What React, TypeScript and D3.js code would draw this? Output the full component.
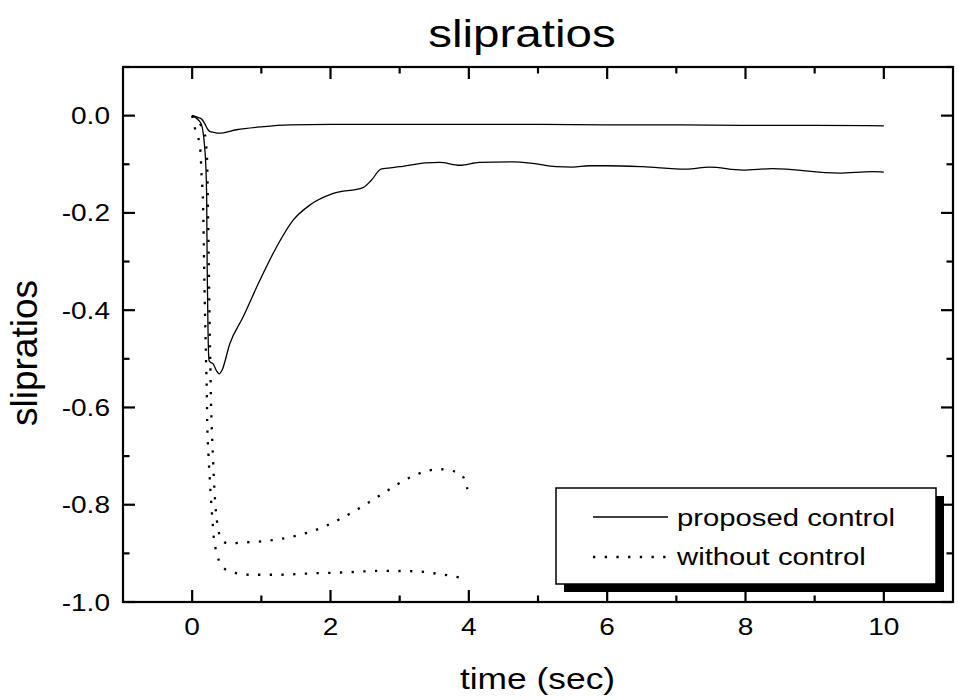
import React from "react";
import * as d3 from "d3";

// ---- data ----
const propATime = [0, 0.09, 0.136, 0.18, 0.23, 0.26, 0.3, 0.39, 0.64, 1.0, 1.41, 2, 3, 4, 5, 6, 7, 8, 9, 10];
const propAValue = [0, -0.004, -0.007, -0.016, -0.029, -0.033, -0.034, -0.036, -0.029, -0.023, -0.019, -0.018, -0.018, -0.018, -0.018, -0.019, -0.019, -0.02, -0.02, -0.021];

const propBTime = [0, 0.09, 0.136, 0.16, 0.18, 0.198, 0.21, 0.217, 0.23, 0.245, 0.265, 0.3, 0.35, 0.39, 0.43, 0.544, 0.736, 0.977, 1.22, 1.46, 1.7, 2.04, 2.47, 2.59, 2.73, 2.83, 3.0, 3.38, 3.58, 3.87, 4.15, 4.64, 4.92, 5.26, 5.5, 5.74, 6.0, 6.51, 7.14, 7.48, 7.96, 8.39, 9.35, 9.83, 10.0];
const propBValue = [0, -0.009, -0.019, -0.036, -0.064, -0.105, -0.174, -0.311, -0.449, -0.504, -0.507, -0.51, -0.524, -0.531, -0.524, -0.469, -0.414, -0.339, -0.27, -0.215, -0.184, -0.16, -0.148, -0.133, -0.11, -0.108, -0.105, -0.097, -0.096, -0.102, -0.096, -0.095, -0.098, -0.105, -0.106, -0.103, -0.103, -0.105, -0.11, -0.106, -0.112, -0.109, -0.118, -0.115, -0.116];

const noA_Time = [0, 0.04, 0.1, 0.12, 0.136, 0.16, 0.173, 0.19, 0.205, 0.212, 0.217, 0.237, 0.265, 0.3, 0.313, 0.342, 0.39, 0.51, 0.83, 1.25, 1.75, 2.23, 2.73, 3.24, 3.55, 3.88, 3.98];
const noA_Value = [0, -0.026, -0.054, -0.074, -0.122, -0.194, -0.311, -0.435, -0.528, -0.572, -0.627, -0.7, -0.772, -0.845, -0.869, -0.892, -0.916, -0.935, -0.944, -0.944, -0.941, -0.939, -0.936, -0.937, -0.942, -0.95, -0.953];

const noB_Time = [0, 0.136, 0.198, 0.207, 0.217, 0.225, 0.24, 0.256, 0.265, 0.27, 0.28, 0.3, 0.323, 0.347, 0.367, 0.405, 0.52, 0.7, 1.03, 1.25, 1.58, 1.91, 2.195, 2.5, 2.81, 3.12, 3.41, 3.58, 3.75, 3.9, 3.98];
const noB_Value = [0, -0.023, -0.048, -0.071, -0.095, -0.16, -0.3, -0.459, -0.528, -0.576, -0.627, -0.7, -0.772, -0.82, -0.842, -0.866, -0.88, -0.878, -0.875, -0.871, -0.861, -0.845, -0.825, -0.8, -0.772, -0.746, -0.73, -0.727, -0.73, -0.739, -0.768];

const xMajorTicks = [0, 2, 4, 6, 8, 10];
const xMinorTicks = [1, 3, 5, 7, 9];
const yMajorTicks = [0, -0.2, -0.4, -0.6, -0.8, -1.0];
const yMinorTicks = [0.1, -0.1, -0.3, -0.5, -0.7, -0.9];

const titleText = "slipratios";
const xLabelText = "time (sec)";
const yLabelText = "slipratios";
const legendLabels = ["proposed control", "without control"];

const W = 959;
const H = 700;
const FONT = "'Liberation Sans', Arial, Helvetica, sans-serif";
const SX = 1.22;

const x = d3.scaleLinear().domain([-1, 11]).range([123, 953]);
const y = d3.scaleLinear().domain([-1.0, 0.1]).range([602, 67]);

const line = d3
  .line<[number, number]>()
  .x((d) => x(d[0]))
  .y((d) => y(d[1]))
  .curve(d3.curveMonotoneX);

const zip = (a: number[], b: number[]) => a.map((v, i) => [v, b[i]] as [number, number]);

function SText(props: { x: number; y: number; size: number; anchor?: string; sx?: number; children: any }) {
  const { x: tx, y: ty, size, anchor = "start", sx = SX, children } = props;
  return (
    <g transform={`translate(${tx},${ty}) scale(${sx},1)`}>
      <text textAnchor={anchor as any} fontSize={size} fontFamily={FONT} fill="#000">
        {children}
      </text>
    </g>
  );
}

export default function App() {
  const [x0, x1] = x.range();
  const [y0, y1] = y.range(); // y0 bottom, y1 top
  const majorLen = 12;
  const minorLen = 6.5;
  const axisW = 2.2;
  const dotted = "2.3 9.4";

  return (
    <svg
      width={W}
      height={H}
      viewBox={`0 0 ${W} ${H}`}
      style={{ position: "absolute", left: 0, top: 0, background: "#fff" }}
    >
      <rect x={0} y={0} width={W} height={H} fill="#fff" />

      {/* series */}
      <g fill="none" stroke="#000">
        <path d={line(zip(propATime, propAValue)) || ""} strokeWidth={1.3} />
        <path d={line(zip(propBTime, propBValue)) || ""} strokeWidth={1.3} />
        <path d={line(zip(noA_Time, noA_Value)) || ""} strokeWidth={2.3} strokeDasharray={dotted} />
        <path d={line(zip(noB_Time, noB_Value)) || ""} strokeWidth={2.3} strokeDasharray={dotted} />
      </g>

      {/* legend */}
      <g>
        <rect x={564} y={496} width={380} height={96} fill="#000" />
        <rect x={556} y={488} width={380} height={96} fill="#fff" stroke="#000" strokeWidth={1.5} />
        <line x1={593} x2={668} y1={517} y2={517} stroke="#000" strokeWidth={1.3} />
        <line x1={593} x2={670} y1={557} y2={557} stroke="#000" strokeWidth={2.3} strokeDasharray={dotted} />
        <SText x={677} y={525.5} size={24}>{legendLabels[0]}</SText>
        <SText x={677} y={565} size={24}>{legendLabels[1]}</SText>
      </g>

      {/* frame */}
      <rect x={x0} y={y1} width={x1 - x0} height={y0 - y1} fill="none" stroke="#000" strokeWidth={axisW} />

      {/* ticks */}
      <g stroke="#000" strokeWidth={axisW}>
        {xMajorTicks.map((t) => (
          <g key={"xM" + t}>
            <line x1={x(t)} x2={x(t)} y1={y0} y2={y0 - majorLen} />
            <line x1={x(t)} x2={x(t)} y1={y1} y2={y1 + majorLen} />
          </g>
        ))}
        {xMinorTicks.map((t) => (
          <g key={"xm" + t}>
            <line x1={x(t)} x2={x(t)} y1={y0} y2={y0 - minorLen} />
            <line x1={x(t)} x2={x(t)} y1={y1} y2={y1 + minorLen} />
          </g>
        ))}
        {yMajorTicks.map((t) => (
          <g key={"yM" + t}>
            <line x1={x0} x2={x0 + majorLen} y1={y(t)} y2={y(t)} />
            <line x1={x1} x2={x1 - majorLen} y1={y(t)} y2={y(t)} />
          </g>
        ))}
        {yMinorTicks.map((t) => (
          <g key={"ym" + t}>
            <line x1={x0} x2={x0 + minorLen} y1={y(t)} y2={y(t)} />
            <line x1={x1} x2={x1 - minorLen} y1={y(t)} y2={y(t)} />
          </g>
        ))}
      </g>

      {/* tick labels */}
      {xMajorTicks.map((t) => (
        <SText key={"xl" + t} x={x(t)} y={635} size={23} anchor="middle">
          {d3.format("d")(t)}
        </SText>
      ))}
      {yMajorTicks.map((t) => (
        <SText key={"yl" + t} x={110} y={y(t) + 8.5} size={23} anchor="end">
          {d3.format(".1f")(t).replace("−", "-")}
        </SText>
      ))}

      {/* titles */}
      <SText x={522} y={47} size={39} anchor="middle">{titleText}</SText>
      <SText x={537.5} y={689} size={29} anchor="middle">{xLabelText}</SText>
      <text
        transform={`translate(37,353) rotate(-90)`}
        textAnchor="middle"
        fontSize={37}
        fontFamily={FONT}
        fill="#000"
      >
        {yLabelText}
      </text>
    </svg>
  );
}
